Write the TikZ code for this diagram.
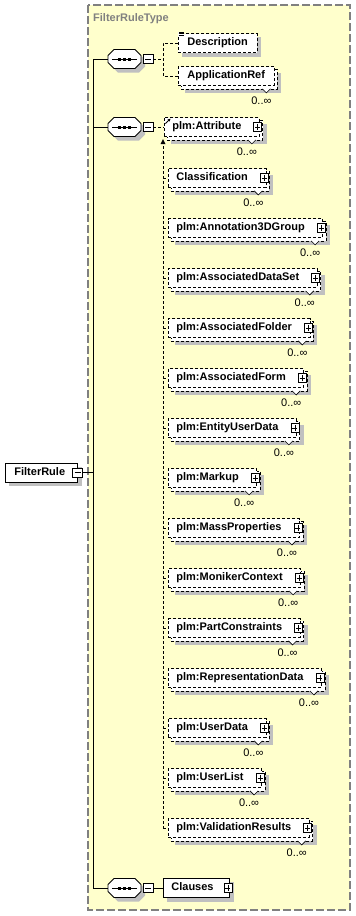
\documentclass[tikz,border=0pt]{standalone}
\usepackage{fontspec}
\setmainfont{Liberation Sans}
\usetikzlibrary{arrows.meta}
\pgfdeclarelayer{bglayer}
\pgfdeclarelayer{shadowlayer}
\pgfdeclarelayer{backlayer}
\pgfsetlayers{bglayer,shadowlayer,backlayer,main}
\definecolor{panelfill}{RGB}{255,255,204}
\definecolor{panelline}{RGB}{128,128,128}
\definecolor{shadowgray}{RGB}{192,192,192}
\definecolor{titlegray}{RGB}{128,128,128}
\tikzset{
  finedash/.style={dash pattern=on 3pt off 2pt},
  basebox/.style={fill=white, line width=0.8pt, font=\bfseries\fontsize{11}{13}\selectfont,
    inner ysep=0pt, minimum height=19pt, anchor=west, text height=8pt, text depth=2.5pt},
  optbox/.style={basebox, draw=black, finedash, inner xsep=9pt},
  optplusbox/.style={basebox, draw=black, finedash, inner xsep=8pt},
  reqbox/.style={basebox, draw=black, solid, inner xsep=9pt},
  backbox/.style={draw=black, fill=white, line width=0.8pt, finedash},
  minusbox/.style={draw=black, fill=white, solid, line width=0.7pt, minimum width=10pt, minimum height=9pt, inner sep=0pt,
    path picture={\draw[solid, line width=0.7pt] ([xshift=-3pt]path picture bounding box.center) -- ([xshift=3pt]path picture bounding box.center);}},
  plusbox/.style={draw=black, fill=white, solid, line width=0.7pt, minimum width=8pt, minimum height=9pt, inner sep=0pt,
    path picture={\draw[solid, line width=0.7pt] ([xshift=-2.5pt]path picture bounding box.center) -- ([xshift=2.5pt]path picture bounding box.center)
      ([yshift=-3pt]path picture bounding box.center) -- ([yshift=3pt]path picture bounding box.center);}},
  multlabel/.style={font=\fontsize{11}{13}\selectfont, inner sep=0pt},
  titlestyle/.style={font=\bfseries\fontsize{11}{13}\selectfont, text=titlegray, inner sep=0pt},
  conn/.style={line width=0.8pt, solid},
  dconn/.style={line width=0.8pt, finedash},
}
\newcommand\dropsh[2]{%
  \begin{pgfonlayer}{shadowlayer}
    \fill[shadowgray] ([shift={(#2pt,-#2pt)}]#1.north west) rectangle ([shift={(#2pt,-#2pt)}]#1.south east);
  \end{pgfonlayer}}
\newcommand\stackback[1]{%
  \begin{pgfonlayer}{backlayer}
    \draw[backbox] ([shift={(3pt,-3pt)}]#1.north west) rectangle ([shift={(3pt,-3pt)}]#1.south east);
  \end{pgfonlayer}
  \dropsh{#1}{7}}
\newcommand\multmark[1]{%
  \coordinate (#1v) at ([shift={(-8pt,-3pt)}]#1.south east);
  \draw[fill=white, line width=0.6pt, solid] ([xshift=-4pt]#1v) -- ([yshift=-4pt]#1v) -- ([xshift=4pt]#1v);
  \node[multlabel] (#1c) at ([shift={(-5pt,-11.5pt)}]#1v) {0..∞};}
\newcommand\plusmark[1]{%
  \node[plusbox] (#1p) at ([xshift=-2pt]#1.east) {};}
\newcommand\plmelem[4]{%
  \node[optplusbox] (#1) at (#2,#3) {#4\hspace*{10pt}};
  \stackback{#1}
  \plusmark{#1}
  \multmark{#1}}
\newcommand\seqgroup[3]{%
  \node[draw=none, minimum width=33pt, minimum height=19pt, inner sep=0pt] (#1) at (#2,#3) {};
  \begin{pgfonlayer}{shadowlayer}
    \fill[shadowgray] ([shift={(4pt,-4pt)}]#2-10.5,#3-9.5) -- ++(21,0) -- ++(6,6) -- ++(0,7) -- ++(-6,6) -- ++(-21,0) -- ++(-6,-6) -- ++(0,-7) -- cycle;
  \end{pgfonlayer}
  \draw[fill=white, line width=0.8pt] (#2-10.5,#3-9.5) -- ++(21,0) -- ++(6,6) -- ++(0,7) -- ++(-6,6) -- ++(-21,0) -- ++(-6,-6) -- ++(0,-7) -- cycle;
  \draw[line width=0.8pt] (#2-12.5,#3) -- (#2+12.5,#3);
  \foreach \dx in {-5,0,5} \fill (#2+\dx-1.6,#3-1.5) rectangle (#2+\dx+1.6,#3+1.5);
  \node[minusbox] (#1m) at (#2+23.5,#3) {};}

\begin{document}
\begin{tikzpicture}[x=1pt,y=-1pt]
\useasboundingbox (0,0) rectangle (356,916);
\begin{pgfonlayer}{bglayer}
  \draw[panelline, fill=panelfill, line width=1.3pt, dash pattern=on 8pt off 3pt] (88,5) rectangle (350,910);
\end{pgfonlayer}
\node[titlestyle, anchor=west] (ttl) at (93,19) {FilterRuleType};

% root element
\node[reqbox] (fr) at (5,472.5) {FilterRule\hspace*{3pt}};
\dropsh{fr}{4}
\node[minusbox] (frm) at (fr.east) {};

% sequences
\seqgroup{sa}{124.5}{59}
\seqgroup{sb}{124.5}{127}
\seqgroup{sc}{124.5}{888}
\coordinate (spa) at (93,59);
\draw[conn] (sa.west) -- (spa) -- (spa |- sc.west) -- (sc.west);
\draw[conn] (frm.east) -- (frm.east -| spa);
\draw[conn] (sb.west) -- (sb.west -| spa);

% first sequence
\node[optbox] (desc) at (178,43) {Description};
\dropsh{desc}{4}
\fill[white] ([shift={(-0.5pt,1.5pt)}]desc.north west) rectangle ++(6.5,5.5);
\foreach \d in {1.2,-0.6,-2.4} \draw[line width=0.7pt, solid] ([shift={(0.5pt,\d pt)}]desc.north west) -- ++(5,0);
\node[optbox] (appref) at (178,76) {ApplicationRef};
\stackback{appref}
\multmark{appref}
\coordinate (ja) at (163,59);
\draw[dconn] (sam.east) -- (ja);
\draw[dconn] (desc.west) -- (desc.west -| ja) -- (appref.west -| ja) -- (appref.west);

% second sequence
\plmelem{attr}{164}{127}{plm:Attribute}
\plmelem{cls}{168}{178}{Classification}
\plmelem{ann}{168}{228}{plm:Annotation3DGroup}
\plmelem{ads}{168}{278}{plm:AssociatedDataSet}
\plmelem{afo}{168}{328}{plm:AssociatedFolder}
\plmelem{afm}{168}{378}{plm:AssociatedForm}
\plmelem{eud}{168}{428}{plm:EntityUserData}
\plmelem{mkp}{168}{478}{plm:Markup}
\plmelem{msp}{168}{528}{plm:MassProperties}
\plmelem{mon}{168}{578}{plm:MonikerContext}
\plmelem{pco}{168}{628}{plm:PartConstraints}
\plmelem{rep}{168}{678}{plm:RepresentationData}
\plmelem{usd}{168}{728}{plm:UserData}
\plmelem{usl}{168}{778}{plm:UserList}
\plmelem{val}{168}{828}{plm:ValidationResults}
\coordinate (vtop) at (163,141);
\draw[dconn] (sbm.east) -- (attr.west);
\draw[dconn] (vtop) -- (val.west -| vtop);
\foreach \n in {cls,ann,ads,afo,afm,eud,mkp,msp,mon,pco,rep,usd,usl,val}
  \draw[dconn] (\n.west -| vtop) -- (\n.west);
\fill (vtop) ++(-2.5,3) -- ++(2.5,-5) -- ++(2.5,5) -- cycle;
\draw[line width=0.9pt, solid, -{Stealth[length=3pt,width=3pt]}] ([shift={(1.5pt,-6.5pt)}]attr.north west) -- ++(5,-5);

% third sequence
\node[reqbox, inner xsep=8pt] (cla) at (163,888) {Clauses\hspace*{8pt}};
\dropsh{cla}{4}
\plusmark{cla}
\draw[conn] (scm.east) -- (cla.west);
\end{tikzpicture}
\end{document}
